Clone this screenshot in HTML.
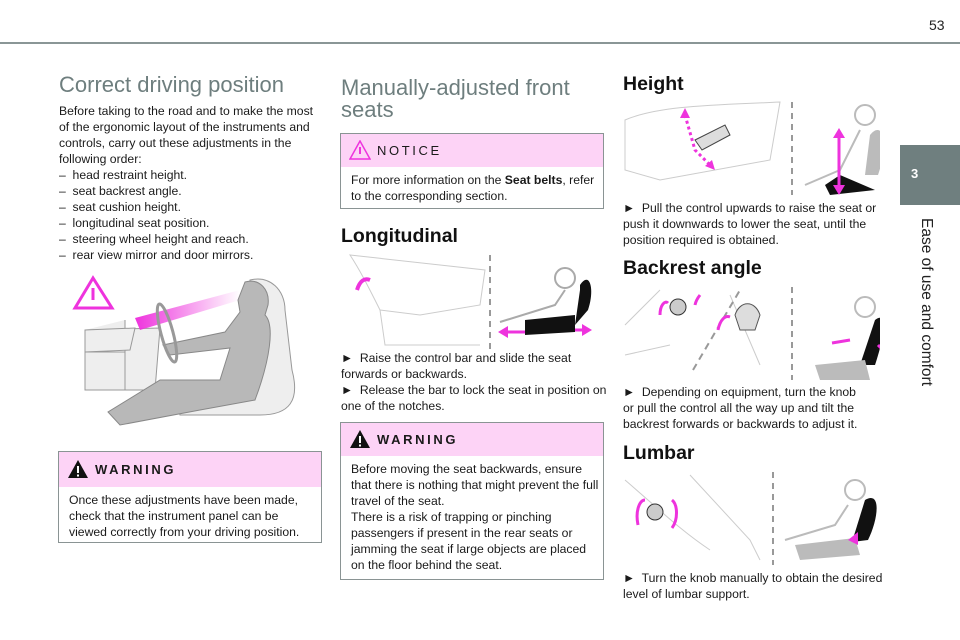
<!DOCTYPE html>
<html><head><meta charset="utf-8"><style>
*{margin:0;padding:0;box-sizing:border-box}
body{width:960px;height:640px;background:#fff;position:relative;overflow:hidden;font-family:"Liberation Sans",Arial,sans-serif;color:#1a1a1a}
.a{position:absolute}
.t{font-size:12.2px;line-height:16px;white-space:nowrap}
.h1{font-size:22px;color:#6e7e7e;line-height:22px;white-space:nowrap}
.h2{font-size:19.5px;font-weight:bold;color:#111;white-space:nowrap}
.box{position:absolute;border:1px solid #8a9494;background:#fff}
.box .hd{background:#fdd3f6;height:33px;position:relative}
.box .hd span{position:absolute;left:36px;top:9px;font-size:13px;letter-spacing:2.6px}
.box .bd{padding:5px 10px 0 10px;font-size:12.2px;line-height:16px;white-space:nowrap}
</style></head><body>
<div class="a" style="left:0;top:42px;width:960px;height:2px;background:#8a9696"></div>
<div class="a" style="left:929px;top:17px;font-size:14px;color:#222">53</div>
<div class="a" style="left:900px;top:145px;width:60px;height:60px;background:#6f7f7f"></div>
<div class="a" style="left:911px;top:166px;color:#fff;font-size:13px;font-weight:bold">3</div>
<div class="a" style="left:836px;top:293px;width:180px;transform:rotate(90deg);transform-origin:center;font-size:15.5px;color:#222;white-space:nowrap;text-align:center">Ease of use and comfort</div>

<!-- column 1 -->
<div class="a h1" style="left:59px;top:74px">Correct driving position</div>
<div class="a t" style="left:59px;top:103px">Before taking to the road and to make the most<br>of the ergonomic layout of the instruments and<br>controls, carry out these adjustments in the<br>following order:<br>–&nbsp; head restraint height.<br>–&nbsp; seat backrest angle.<br>–&nbsp; seat cushion height.<br>–&nbsp; longitudinal seat position.<br>–&nbsp; steering wheel height and reach.<br>–&nbsp; rear view mirror and door mirrors.</div>
<svg class="a" style="left:60px;top:270px" width="260" height="170" viewBox="0 0 260 170">
<defs><linearGradient id="g" x1="0" x2="1"><stop offset="0" stop-color="#ee33dd"/><stop offset="1" stop-color="#ee33dd" stop-opacity="0"/></linearGradient></defs>
<polygon points="33,8 15,38 52,38" fill="none" stroke="#ee33dd" stroke-width="3"/>
<line x1="33" y1="18" x2="33" y2="30" stroke="#ee33dd" stroke-width="3"/>
<path d="M25,60 L100,58 L95,120 L65,120 L65,50" fill="#eee" stroke="#999"/>
<path d="M25,60 L75,58 L70,80 L25,82 Z" fill="#eee" stroke="#999"/>
<path d="M25,82 L65,82 L65,120 L25,120 Z" fill="#eee" stroke="#999"/>
<path d="M190,10 C210,5 225,20 225,40 L232,100 C240,130 230,145 200,145 L120,145 L115,125 L175,120 L185,50 Z" fill="#eee" stroke="#999"/>
<path d="M185,12 C200,8 210,20 208,35 L205,45 C215,55 210,90 195,130 L140,140 L60,155 L48,142 L100,110 L160,110 L170,78 L110,85 L103,75 L165,62 L180,42 L178,30 Z" fill="#b8b8b8" stroke="#888"/>
<polygon points="75,48 180,20 180,30 80,60" fill="url(#g)"/>
<ellipse cx="107" cy="63" rx="6" ry="30" fill="none" stroke="#999" stroke-width="3" transform="rotate(-15 107 63)"/>
</svg>
<div class="box" style="left:58px;top:451px;width:264px;height:92px">
<div class="hd" style="height:35px"><svg class="a" style="left:8px;top:7px" width="22" height="20"><polygon points="11,1 1,19 21,19" fill="#111"/><rect x="10" y="7" width="2" height="7" fill="#fff"/><rect x="10" y="15.5" width="2" height="2" fill="#fff"/></svg><span style="font-weight:bold;top:10px">WARNING</span></div>
<div class="bd">Once these adjustments have been made,<br>check that the instrument panel can be<br>viewed correctly from your driving position.</div></div>

<!-- column 2 -->
<div class="a h1" style="left:341px;top:77px">Manually-adjusted front<br>seats</div>
<div class="box" style="left:340px;top:133px;width:264px;height:76px">
<div class="hd"><svg class="a" style="left:8px;top:6px" width="22" height="20"><polygon points="11,1 1,19 21,19" fill="none" stroke="#ee33dd" stroke-width="1.5"/><rect x="10" y="7" width="2" height="7" fill="#ee33dd"/></svg><span>NOTICE</span></div>
<div class="bd">For more information on the <b>Seat belts</b>, refer<br>to the corresponding section.</div></div>
<div class="a h2" style="left:341px;top:225px">Longitudinal</div>
<svg class="a" style="left:340px;top:250px" width="270" height="100">
<path d="M10,5 C20,20 30,40 40,60 L80,65 L140,55 L145,20 L100,15 Z M40,60 L45,95 L140,95" fill="none" stroke="#ccc"/>
<path d="M17,40 C20,30 25,28 30,30" stroke="#ee33dd" stroke-width="4" fill="none"/>
<line x1="150" y1="5" x2="150" y2="100" stroke="#999" stroke-dasharray="6 5" stroke-width="2"/>
<circle cx="225" cy="28" r="10" fill="none" stroke="#aaa" stroke-width="2"/>
<path d="M240,35 C250,20 255,40 248,60 L235,75 L240,40 Z" fill="#111"/>
<path d="M185,70 L235,65 L235,82 L185,85 Z" fill="#111"/>
<path d="M160,72 L215,55 L225,40" stroke="#aaa" fill="none" stroke-width="2"/>
<path d="M165,82 L185,82 M235,80 L245,80" stroke="#ee33dd" stroke-width="3"/>
<polygon points="158,82 168,76 168,88" fill="#ee33dd"/><polygon points="252,80 242,74 242,86" fill="#ee33dd"/>
</svg>
<div class="a t" style="left:341px;top:350px">►&nbsp; Raise the control bar and slide the seat<br>forwards or backwards.<br>►&nbsp; Release the bar to lock the seat in position on<br>one of the notches.</div>
<div class="box" style="left:340px;top:422px;width:264px;height:158px">
<div class="hd"><svg class="a" style="left:8px;top:6px" width="22" height="20"><polygon points="11,1 1,19 21,19" fill="#111"/><rect x="10" y="7" width="2" height="7" fill="#fff"/><rect x="10" y="15.5" width="2" height="2" fill="#fff"/></svg><span style="font-weight:bold">WARNING</span></div>
<div class="bd">Before moving the seat backwards, ensure<br>that there is nothing that might prevent the full<br>travel of the seat.<br>There is a risk of trapping or pinching<br>passengers if present in the rear seats or<br>jamming the seat if large objects are placed<br>on the floor behind the seat.</div></div>

<!-- column 3 -->
<div class="a h2" style="left:623px;top:73px">Height</div>
<svg class="a" style="left:620px;top:100px" width="260" height="95">
<path d="M5,20 C40,5 100,5 160,2 L150,60 L40,80 L5,70 Z" fill="none" stroke="#ccc"/>
<path d="M75,40 L105,25 L110,35 L82,50 Z" fill="#ddd" stroke="#444"/>
<path d="M65,15 L75,50 L90,65" stroke="#ee33dd" stroke-width="3" stroke-dasharray="3 3" fill="none"/>
<polygon points="65,8 60,18 70,18" fill="#ee33dd"/><polygon points="95,70 85,66 92,60" fill="#ee33dd"/>
<line x1="172" y1="2" x2="172" y2="95" stroke="#999" stroke-dasharray="6 5" stroke-width="2"/>
<circle cx="245" cy="15" r="10" fill="none" stroke="#bbb" stroke-width="2"/>
<path d="M250,35 C262,20 270,40 258,75 L245,75 Z" fill="#bbb"/>
<path d="M205,95 L220,85 L255,100 L210,105 Z" transform="translate(0,-10)" fill="#111"/>
<path d="M185,95 L220,80 L240,40" stroke="#bbb" fill="none" stroke-width="2" transform="translate(0,-10)"/>
<line x1="219" y1="35" x2="219" y2="92" stroke="#ee33dd" stroke-width="3"/>
<polygon points="219,28 213,38 225,38" fill="#ee33dd"/><polygon points="219,95 213,85 225,85" fill="#ee33dd"/>
</svg>
<div class="a t" style="left:623px;top:200px">►&nbsp; Pull the control upwards to raise the seat or<br>push it downwards to lower the seat, until the<br>position required is obtained.</div>
<div class="a h2" style="left:623px;top:257px">Backrest angle</div>
<svg class="a" style="left:620px;top:285px" width="260" height="95">
<path d="M5,40 L40,5 M5,70 L50,60 M110,10 L140,80" fill="none" stroke="#ccc"/>
<circle cx="58" cy="22" r="8" fill="#ccc" stroke="#333"/>
<path d="M40,30 C40,20 45,15 48,18 M75,20 C76,15 80,10 80,10" stroke="#ee33dd" stroke-width="3" fill="none"/>
<line x1="73" y1="85" x2="120" y2="5" stroke="#999" stroke-dasharray="7 5" stroke-width="2"/>
<path d="M115,30 C120,15 135,15 140,30 L135,45 L120,45 Z" fill="#ddd" stroke="#555"/>
<path d="M98,45 C100,35 105,30 110,32" stroke="#ee33dd" stroke-width="3" fill="none"/>
<line x1="172" y1="2" x2="172" y2="95" stroke="#999" stroke-dasharray="6 5" stroke-width="2"/>
<circle cx="245" cy="22" r="10" fill="none" stroke="#bbb" stroke-width="2"/>
<path d="M255,35 C268,25 265,50 255,80 L240,80 Z" fill="#111"/>
<path d="M195,80 L245,75 L250,95 L200,95 Z" fill="#bbb"/>
<path d="M230,55 L212,58 M258,60 L268,70" stroke="#ee33dd" stroke-width="3"/>
</svg>
<div class="a t" style="left:623px;top:384px">►&nbsp; Depending on equipment, turn the knob<br>or pull the control all the way up and tilt the<br>backrest forwards or backwards to adjust it.</div>
<div class="a h2" style="left:623px;top:442px">Lumbar</div>
<svg class="a" style="left:620px;top:470px" width="260" height="95">
<path d="M5,10 C40,40 60,60 90,80 M70,5 L130,70 L140,90" fill="none" stroke="#ccc"/>
<circle cx="35" cy="42" r="8" fill="#ccc" stroke="#333"/>
<path d="M18,55 C15,40 20,30 25,30 M52,30 C58,35 58,50 52,58" stroke="#ee33dd" stroke-width="3" fill="none"/>
<line x1="153" y1="2" x2="153" y2="95" stroke="#999" stroke-dasharray="6 5" stroke-width="2"/>
<circle cx="235" cy="20" r="10" fill="none" stroke="#bbb" stroke-width="2"/>
<path d="M245,30 C262,20 258,50 248,70 L232,72 Z" fill="#111"/>
<path d="M175,75 L235,68 L240,85 L180,90 Z" fill="#bbb"/>
<path d="M165,70 L215,55 L228,35" stroke="#bbb" fill="none" stroke-width="2"/>
<polygon points="228,70 238,62 238,75" fill="#ee33dd"/>
</svg>
<div class="a t" style="left:623px;top:570px">►&nbsp; Turn the knob manually to obtain the desired<br>level of lumbar support.</div>
</body></html>
